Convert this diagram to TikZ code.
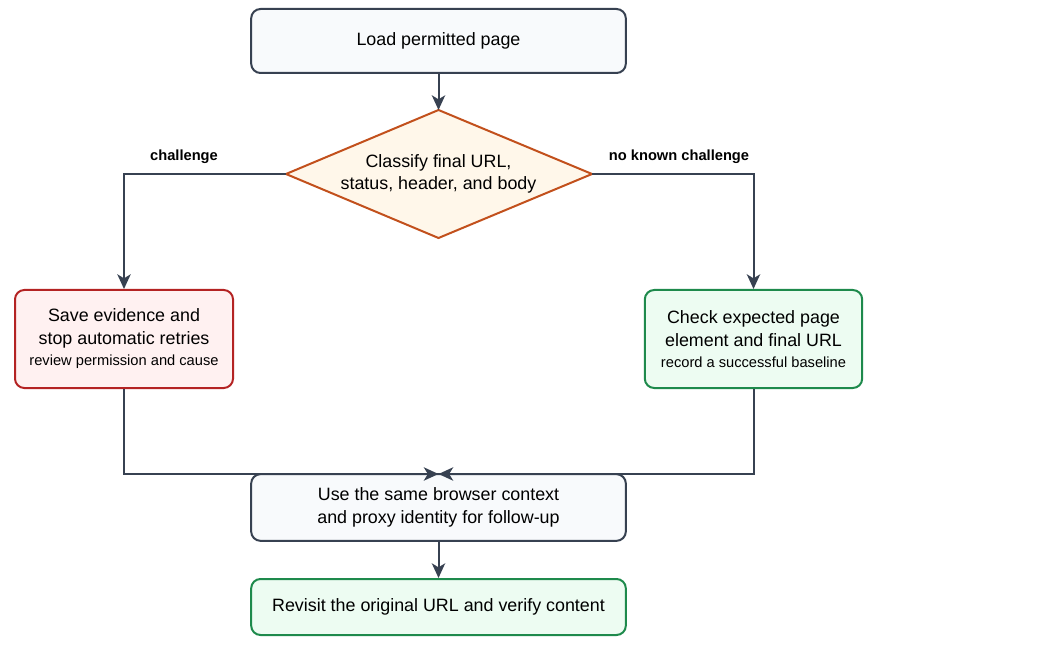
\documentclass[tikz,border=0pt]{standalone}
\usepackage{fontspec}
\setmainfont{Liberation Sans}
\usetikzlibrary{arrows.meta}
\definecolor{ln}{HTML}{374151}
\definecolor{nfill}{HTML}{F8FAFC}
\definecolor{dstroke}{HTML}{C2501C}
\definecolor{dfill}{HTML}{FFF7EA}
\definecolor{rstroke}{HTML}{B42323}
\definecolor{rfill}{HTML}{FFF1F1}
\definecolor{gstroke}{HTML}{1E8A4C}
\definecolor{gfill}{HTML}{EDFCF2}
\begin{document}
\begin{tikzpicture}[x=0.75pt,y=-0.75pt,
  box/.style={rounded corners=7pt,line width=1.5pt,draw=ln,fill=nfill,align=center,font=\fontsize{13.4}{17}\selectfont,inner sep=0pt},
  red/.style={box,draw=rstroke,fill=rfill},
  green/.style={box,draw=gstroke,fill=gfill},
  arr/.style={line width=1.5pt,draw=ln,-{Stealth[length=11pt,width=10pt,inset=3pt]}},
  lab/.style={font=\bfseries\fontsize{11}{13}\selectfont,text=black},
  small/.style={font=\fontsize{11}{14}\selectfont}]
\useasboundingbox (0,0) rectangle (1046,645);
\node[box,minimum width=281pt,minimum height=48pt] (load) at (438.5,41) {Load permitted page};
\coordinate (ct) at (438.5,110);
\coordinate (cl) at (286,174);
\coordinate (cr) at (592,174);
\coordinate (cb) at (438.5,238);
\draw[draw=dstroke,fill=dfill,line width=1.5pt] (ct) -- (cr) -- (cb) -- (cl) -- cycle;
\node[align=center,font=\fontsize{13.4}{17}\selectfont] (cls) at (438.5,174) {Classify final URL,\\status, header, and body};
\node[red,minimum width=163.5pt,minimum height=73.5pt] (save) at (124,339) {Save evidence and\\stop automatic retries\\[-1pt]{\small\fontsize{11}{14}\selectfont review permission and cause}};
\node[green,minimum width=163pt,minimum height=73.5pt] (check) at (753.5,339) {Check expected page\\element and final URL\\[-1pt]{\fontsize{11}{14}\selectfont record a successful baseline}};
\node[box,minimum width=281pt,minimum height=50pt] (use) at (438.5,507.5) {Use the same browser context\\and proxy identity for follow-up};
\node[green,minimum width=281pt,minimum height=42pt] (rev) at (438.5,607) {Revisit the original URL and verify content};
\coordinate (m) at (438.5,474);
\draw[arr] (load) -- (ct);
\draw[arr] (cl) -| (save.north);
\draw[arr] (cr) -| (check.north);
\node[lab] at (184,157) {challenge};
\node[lab] at (679,157) {no known challenge};
\draw[arr] (save.south) |- (m);
\draw[arr] (check.south) |- (m);
\draw[arr] (use) -- (rev);
\end{tikzpicture}
\end{document}
